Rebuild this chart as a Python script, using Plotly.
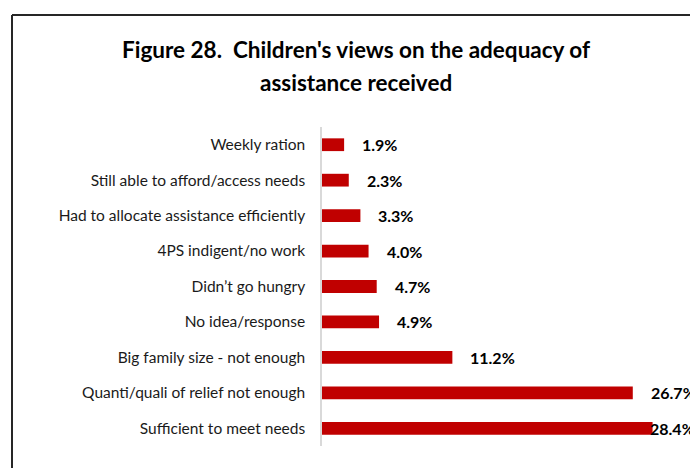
import plotly.graph_objects as go

# Responses and their shares (%)
categories = [
    "Weekly ration",
    "Still able to afford/access needs",
    "Had to allocate assistance efficiently",
    "4PS indigent/no work",
    "Didn\u2019t go hungry",
    "No idea/response",
    "Big family size - not enough",
    "Quanti/quali of relief not enough",
    "Sufficient to meet needs",
]
shares = [1.9, 2.3, 3.3, 4.0, 4.7, 4.9, 11.2, 26.7, 28.4]
share_labels = [f"{v:.1f}%" for v in shares]
title_lines = ["Figure 28.  Children's views on the adequacy of", "assistance received"]

W, H = 690, 468
L, T, B = 322, 127, 22
plot_w = W - L
ph = H - T - B
x_max = plot_w / 11.64
FONT = "Lato, Calibri, sans-serif"

fig = go.Figure()
fig.add_trace(go.Bar(
    x=shares,
    y=categories,
    orientation="h",
    marker=dict(color="#C00000", line=dict(width=0)),
    width=0.36,
    hoverinfo="skip",
))

annotations = []
for i, (cat, v, lab) in enumerate(zip(categories, shares, share_labels)):
    # the widest bar's label sits over its end to stay inside the chart
    shift = 16 if i < len(shares) - 1 else -5
    annotations.append(dict(
        x=v, y=cat, xref="x", yref="y", text=f"<b>{lab}</b>",
        xanchor="left", yanchor="middle", xshift=shift, showarrow=False,
        font=dict(family=FONT, size=16, color="#000000"),
    ))

for line, y_px in zip(title_lines, [50, 82]):
    annotations.append(dict(
        x=(356 - L) / plot_w, y=(H - B - y_px) / ph, xref="paper", yref="paper",
        text=f"<b>{line}</b>",
        showarrow=False, xanchor="center", yanchor="middle", align="center",
        font=dict(family=FONT, size=22.5, color="#000000"),
    ))

fig.update_layout(
    width=W, height=H,
    margin=dict(l=L, r=0, t=T, b=B, pad=0),
    paper_bgcolor="white", plot_bgcolor="white",
    showlegend=False,
    xaxis=dict(range=[0, x_max], visible=False, fixedrange=True),
    yaxis=dict(
        autorange="reversed", showgrid=False, zeroline=False,
        showline=True, linecolor="#d9d9d9", linewidth=1.5,
        ticks="", ticklabelstandoff=12,
        tickfont=dict(family=FONT, size=15.5, color="#1a1a1a"),
    ),
    annotations=annotations,
    shapes=[
        dict(type="line", xref="paper", yref="paper",
             x0=(12 - L) / plot_w, x1=(12 - L) / plot_w,
             y0=(H - B - 15) / ph, y1=(-B - 5) / ph,
             line=dict(color="#262626", width=2)),
        dict(type="line", xref="paper", yref="paper",
             x0=(12 - L) / plot_w, x1=(W + 5 - L) / plot_w,
             y0=(H - B - 15) / ph, y1=(H - B - 15) / ph,
             line=dict(color="#262626", width=2)),
    ],
)

fig.write_html("out.html")
